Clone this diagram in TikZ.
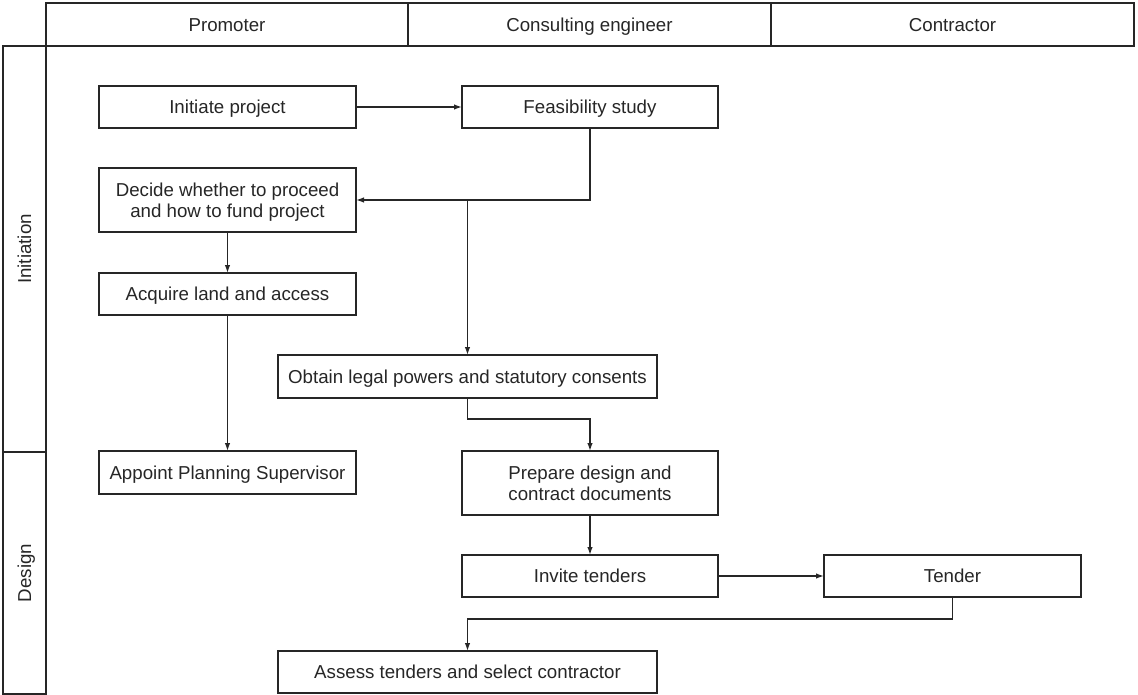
\documentclass[tikz,border=0pt]{standalone}
\usepackage{fontspec}
\setmainfont{Liberation Sans}
\usetikzlibrary{arrows.meta}
\definecolor{ink}{HTML}{262626}
\begin{document}
\begin{tikzpicture}[x=1pt,y=-1pt,
  every node/.style={font=\fontsize{18.7}{21.2}\selectfont, text=ink},
  oneline/.style={text height=13.4pt, text depth=0pt},
  twoline/.style={text depth=-2pt},
  box/.style={draw=ink, line width=1.35pt, inner sep=0pt, outer sep=0pt, align=center},
  cell/.style={draw=ink, line width=1.35pt, inner sep=0pt, outer sep=0pt},
  arr/.style={draw=ink, line width=1.35pt, -{Latex[length=8pt,width=5.5pt]}}]
\useasboundingbox (0,0) rectangle (1138,695);

% header row
\node[cell, oneline, minimum width=362pt, minimum height=43pt] (promoter) at (227,24.5) {Promoter};
\node[cell, oneline, minimum width=363pt, minimum height=43pt] (consult) at (589.5,24.5) {Consulting engineer};
\node[cell, oneline, minimum width=363pt, minimum height=43pt] (contract) at (952.5,24.5) {Contractor};

% stage column
\node[cell, minimum width=43pt, minimum height=406pt] (initiation) at (24.5,249) {};
\node[oneline, rotate=90] (initlabel) at (initiation.center) {Initiation};
\node[cell, minimum width=43pt, minimum height=242pt] (design) at (24.5,573) {};
\node[oneline, rotate=90] (designlabel) at (design.center) {Design};

% activities
\node[box, oneline, minimum width=257pt, minimum height=42pt] (init) at (227.5,107) {Initiate project};
\node[box, oneline, minimum width=256pt, minimum height=42pt] (feas) at (590,107) {Feasibility study};
\node[box, twoline, minimum width=257pt, minimum height=64pt] (decide) at (227.5,200) {Decide whether to proceed\\and how to fund project};
\node[box, oneline, minimum width=257pt, minimum height=42pt] (acquire) at (227.5,294) {Acquire land and access};
\node[box, oneline, minimum width=379pt, minimum height=43pt] (obtain) at (467.5,376.5) {Obtain legal powers and statutory consents};
\node[box, oneline, minimum width=257pt, minimum height=43pt] (appoint) at (227.5,472.5) {Appoint Planning Supervisor};
\node[box, twoline, minimum width=256pt, minimum height=64pt] (prepare) at (590,483) {Prepare design and\\contract documents};
\node[box, oneline, minimum width=256pt, minimum height=42pt] (invite) at (590,576) {Invite tenders};
\node[box, oneline, minimum width=257pt, minimum height=42pt] (tender) at (952.5,576) {Tender};
\node[box, oneline, minimum width=379pt, minimum height=42pt] (assess) at (467.5,672) {Assess tenders and select contractor};

% junction points
\coordinate (split) at (obtain.north |- decide.east);
\coordinate (jog1) at (467.5,419);
\coordinate (jog2) at (952.5,619);

% connectors
\draw[arr] (init.east) -- (feas.west);
\draw[arr] (feas.south) |- (decide.east);
\draw[arr] (split) -- (obtain.north);
\draw[arr] (decide.south) -- (acquire.north);
\draw[arr] (acquire.south) -- (appoint.north);
\draw[arr] (obtain.south) -- (jog1) -| (prepare.north);
\draw[arr] (prepare.south) -- (invite.north);
\draw[arr] (invite.east) -- (tender.west);
\draw[arr] (tender.south) -- (jog2) -| (assess.north);
\end{tikzpicture}
\end{document}
